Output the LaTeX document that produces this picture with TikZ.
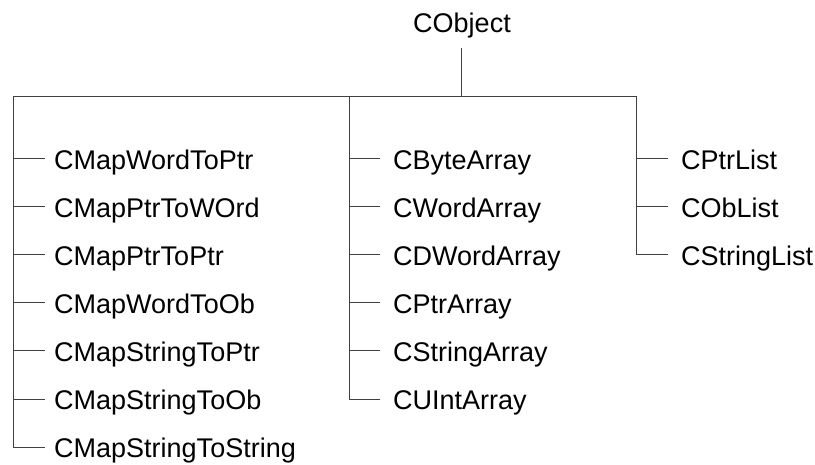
\documentclass[tikz,border=0pt]{standalone}
\usepackage{fontspec}
\setmainfont{Liberation Sans}
\begin{document}
\begin{tikzpicture}[x=1pt,y=-1pt,
  every node/.style={font=\fontsize{27}{31}\selectfont, text=black},
  leftcls/.style={anchor=west, inner xsep=9pt, inner ysep=0pt, text height=21pt, text depth=0pt},
  midcls/.style={anchor=west, inner xsep=13pt, inner ysep=0pt, text height=21pt, text depth=0pt},
  rootcls/.style={anchor=base, inner ysep=16pt, inner xsep=0pt, text depth=0pt},
  link/.style={draw=black!75, line width=1pt}]
\useasboundingbox (0,0) rectangle (815,464);
% root
\node[rootcls] (root) at (462,32) {CObject};
\coordinate (top) at (461,96);
\coordinate (b1) at (13,96);
\coordinate (b2) at (349,96);
\coordinate (b3) at (636,96);
% left column
\node[leftcls] (l1) at (45,158.5) {CMapWordToPtr};
\node[leftcls] (l2) at (45,206.6) {CMapPtrToWOrd};
\node[leftcls] (l3) at (45,254.7) {CMapPtrToPtr};
\node[leftcls] (l4) at (45,302.8) {CMapWordToOb};
\node[leftcls] (l5) at (45,350.9) {CMapStringToPtr};
\node[leftcls] (l6) at (45,399.0) {CMapStringToOb};
\node[leftcls] (l7) at (45,447.1) {CMapStringToString};
% middle column
\node[midcls] (m1) at (380,158.5) {CByteArray};
\node[midcls] (m2) at (380,206.6) {CWordArray};
\node[midcls] (m3) at (380,254.7) {CDWordArray};
\node[midcls] (m4) at (380,302.8) {CPtrArray};
\node[midcls] (m5) at (380,350.9) {CStringArray};
\node[midcls] (m6) at (380,399.0) {CUIntArray};
% right column
\node[midcls] (r1) at (668,158.5) {CPtrList};
\node[midcls] (r2) at (668,206.6) {CObList};
\node[midcls] (r3) at (668,254.7) {CStringList};
% connectors
\draw[link] (top |- root.south) -- (top);
\draw[link] (b1) -- (b3);
\draw[link] (b1) |- (l7.west);
\foreach \n in {l1,l2,l3,l4,l5,l6} \draw[link] (b1 |- \n.west) -- (\n.west);
\draw[link] (b2) |- (m6.west);
\foreach \n in {m1,m2,m3,m4,m5} \draw[link] (b2 |- \n.west) -- (\n.west);
\draw[link] (b3) |- (r3.west);
\foreach \n in {r1,r2} \draw[link] (b3 |- \n.west) -- (\n.west);
\end{tikzpicture}
\end{document}
